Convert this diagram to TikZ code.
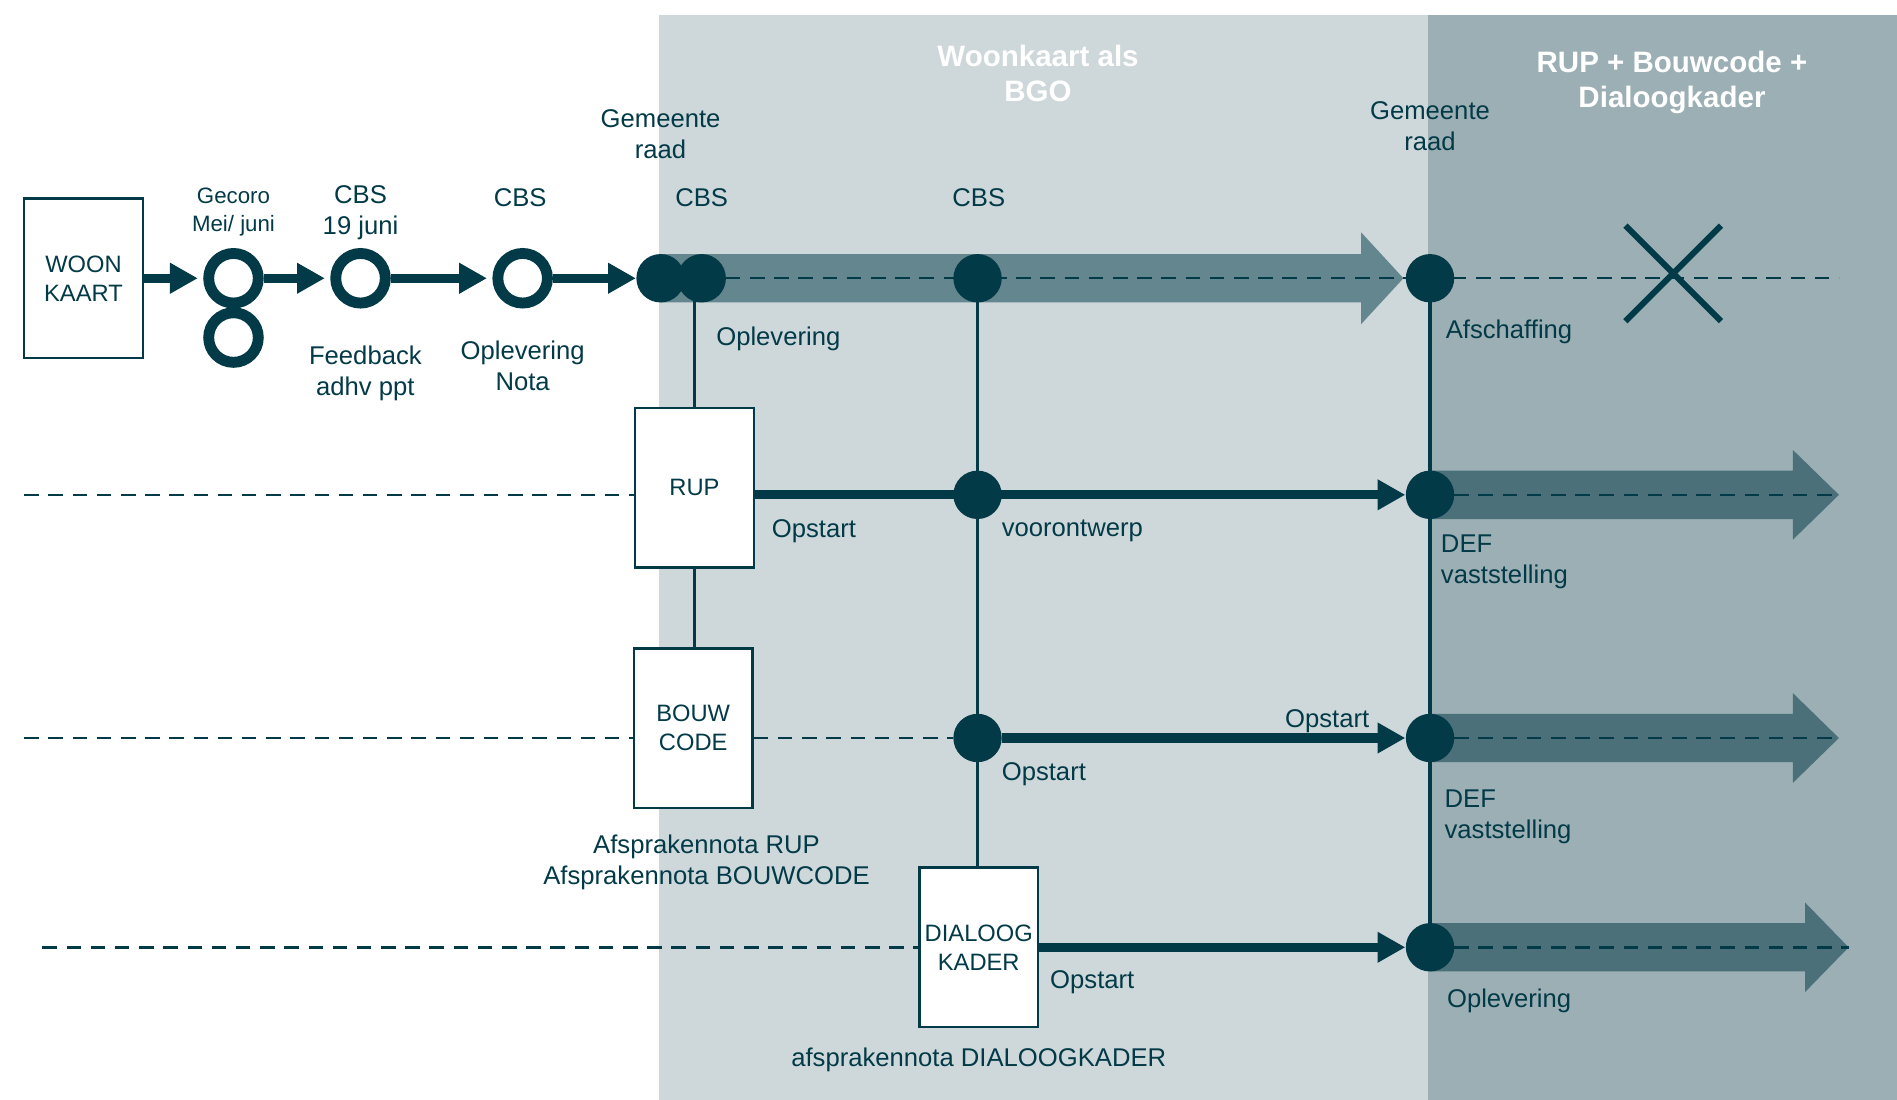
\documentclass[tikz,border=0pt]{standalone}
\usepackage{fontspec}
\setmainfont{Liberation Sans}
\usepackage{tikz}
\usetikzlibrary{positioning, arrows.meta, shapes.misc}

\definecolor{ink}{HTML}{033A47}
\definecolor{bandlight}{HTML}{CED8DB}
\definecolor{banddark}{HTML}{9BAFB4}
\definecolor{flowlight}{HTML}{64868E}
\definecolor{flowdark}{HTML}{4B707A}

\pgfdeclarelayer{bands}
\pgfdeclarelayer{links}
\pgfsetlayers{bands,links,main}

\begin{document}
\begin{tikzpicture}[x = 0.5pt, y = -0.5pt,
    every node/.style = { align = center, text = ink, font = \fontsize{10.6}{12.8}\selectfont },
    box/.style = { draw = ink, fill = white, line width = 1pt, inner sep = 0pt,
                   minimum width = 49pt, minimum height = 66pt, font = \fontsize{9.8}{12}\selectfont },
    dot/.style = { circle, fill = ink, inner sep = 0pt, minimum size = 20pt },
    ring/.style = { circle, draw = ink, line width = 4.5pt, inner sep = 0pt, minimum size = 20.5pt },
    title/.style = { text = white, font = \bfseries\fontsize{12.2}{14.5}\selectfont },
    small/.style = { font = \fontsize{9.2}{11.5}\selectfont },
    note/.style = { anchor = west, align = left },
    flow/.style = { draw = ink, line width = 3.8pt, -{Triangle[length = 11.5pt, width = 12pt]} },
    link/.style = { draw = ink, line width = 1.5pt },
    track/.style = { draw = ink, line width = 1pt, dash pattern = on 6pt off 4pt }]

    \useasboundingbox (0,0) rectangle (1568,909);
    \begin{pgfonlayer}{bands}
      \fill[bandlight] (545,12) rectangle (1180,909);
      \fill[banddark] (1180,12) rectangle (1568,909);
    \end{pgfonlayer}

    % phases
    \node[title] (bgo) at (858,61) {Woonkaart als\\BGO};
    \node[title] (rupfase) at (1382,68) {RUP + Bouwcode +\\Dialoogkader};

    % woonkaart
    \node[box] (woon) at (69,230) {WOON\\KAART};
    \node[ring] (gecoro) at (193,230) {};
    \node[ring] (gecoro2) at (193,279) {};
    \node[ring] (cbsfb) at (298,230) {};
    \node[ring] (cbsnota) at (432,230) {};
    \node[dot] (raadA) at (546,230) {};
    \node[dot] (cbsA) at (580,230) {};
    \node[dot] (cbsB) at (808,230) {};
    \node[dot] (raadB) at (1182,230) {};
    \node[cross out, draw = ink, line width = 2.5pt, inner sep = 0pt,
          minimum width = 37pt, minimum height = 37pt] (schrap) at (1383,226) {};

    % RUP, bouwcode, dialoogkader
    \node[box] (rup) at (574,403) {RUP};
    \node[dot] (vo) at (808,409) {};
    \node[dot] (defA) at (1182,409) {};
    \node[box] (bouw) at (573,602) {BOUW\\CODE};
    \node[dot] (opA) at (808,610) {};
    \node[dot] (defB) at (1182,610) {};
    \node[box] (dialoog) at (809,783) {DIALOOG\\KADER};
    \node[dot] (opl) at (1182,783) {};

    \coordinate (endA) at (1520,230);
    \coordinate (startB) at (20,409);
    \coordinate (endB) at (1520,409);
    \coordinate (startC) at (20,610);
    \coordinate (endC) at (1520,610);
    \coordinate (startD) at (35,783);
    \coordinate (endD) at (1528,783);

    % labels
    \node (raadAtxt) at (546,111) {Gemeente\\raad};
    \node (raadBtxt) at (1182,104) {Gemeente\\raad};
    \node[small] (gecorotxt) at (193,175) {Gecoro\\Mei/ juni};
    \node (cbsfbtxt) at (298,176) {CBS\\19 juni};
    \node (cbsnotatxt) at (430,163) {CBS};
    \node (cbsAtxt) at (580,163) {CBS};
    \node (cbsBtxt) at (809,163) {CBS};
    \node (fbtxt) at (302,309) {Feedback\\adhv ppt};
    \node (notatxt) at (432,302) {Oplevering\\Nota};
    \node[note] (opltxtA) at (585,280) {Oplevering};
    \node[note] (afschtxt) at (1188,274) {Afschaffing};
    \node[note] (rupstart) at (631,439) {Opstart};
    \node[note] (vootxt) at (821,439) {voorontwerp};
    \node[note] (defAtxt) at (1184,464) {DEF\\vaststelling};
    \node (bouwstartB) at (1097,596) {Opstart};
    \node[note] (bouwstartA) at (821,640) {Opstart};
    \node[note] (defBtxt) at (1187,675) {DEF\\vaststelling};
    \node (afspraak) at (584,713) {Afsprakennota RUP\\Afsprakennota BOUWCODE};
    \node[note] (dkstart) at (861,812) {Opstart};
    \node[note] (opltxtB) at (1189,827) {Oplevering};
    \node (dkafspraak) at (809,876) {afsprakennota DIALOOGKADER};

    \begin{pgfonlayer}{links}
      % broad arrows
      \fill[flowlight] (546,210) -- (1125,210) -- (1125,192) -- (1160,230)
        -- (1125,268) -- (1125,250) -- (546,250) -- cycle;
      \fill[flowdark] (1182,389) -- (1482,389) -- (1482,372) -- (1520,409)
        -- (1482,446) -- (1482,429) -- (1182,429) -- cycle;
      \fill[flowdark] (1182,590) -- (1482,590) -- (1482,573) -- (1520,610)
        -- (1482,647) -- (1482,630) -- (1182,630) -- cycle;
      \fill[flowdark] (1182,763) -- (1492,763) -- (1492,746) -- (1528,783)
        -- (1492,820) -- (1492,803) -- (1182,803) -- cycle;

      % verticals
      \draw[link] (rup.north) -- (rup.north |- cbsA.center);
      \draw[link] (rup.south) -- (rup.south |- bouw.north);
      \draw[link] (cbsB.center) -- (cbsB.center |- dialoog.north);
      \draw[link] (raadB.center) -- (opl.center);

      % row 1
      \draw[flow, shorten > = 2.25pt] (woon) -- (gecoro);
      \draw[flow, shorten > = 2.25pt] (gecoro) -- (cbsfb);
      \draw[flow, shorten > = 2.25pt] (cbsfb) -- (cbsnota);
      \draw[flow] (cbsnota) -- (raadA);
      \draw[track] (cbsA.center) -- (endA);

      % row 2
      \draw[track] (startB) -- (rup.west |- startB);
      \draw[flow] (rup.east |- defA) -- (defA);
      \draw[track] (defA.center) -- (endB);

      % row 3
      \draw[track] (startC) -- (bouw.west |- startC);
      \draw[track] (bouw.east |- opA) -- (opA);
      \draw[flow] (opA) -- (defB);
      \draw[track] (defB.center) -- (endC);

      % row 4
      \draw[track] (startD) -- (dialoog.west);
      \draw[flow] (dialoog.east) -- (opl);
      \draw[track] (opl.center) -- (endD);
    \end{pgfonlayer}
\end{tikzpicture}
\end{document}
